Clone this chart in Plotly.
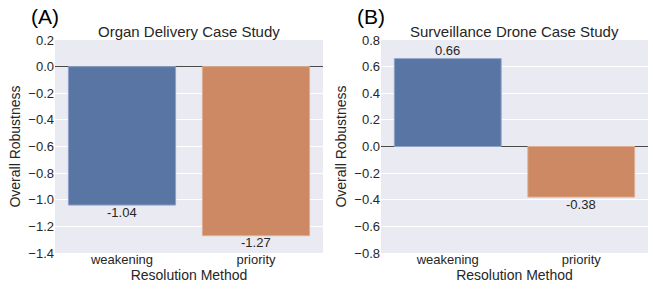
import plotly.graph_objects as go
from plotly.subplots import make_subplots

methods = ["weakening", "priority"]
organ_values = [-1.04, -1.27]
drone_values = [0.66, -0.38]
organ_labels = ["-1.04", "-1.27"]
drone_labels = ["0.66", "-0.38"]
colors = ["#5975A4", "#CC8963"]
edge_colors = ["#8EA2C6", "#E0AE91"]

FONT = "Liberation Sans, Arial, sans-serif"
TXT = "#262626"
W, H = 653, 289
L, R, T, B = 55, 5, 40, 36
PW, PH = W - L - R, H - T - B


def px(x):
    return (x - L) / PW


def py(y):
    return (H - B - y) / PH


fig = make_subplots(rows=1, cols=2)

fig.add_trace(go.Bar(x=methods, y=organ_values,
                     marker=dict(color=colors, line=dict(color=edge_colors, width=1)),
                     showlegend=False), row=1, col=1)
fig.add_trace(go.Bar(x=methods, y=drone_values,
                     marker=dict(color=colors, line=dict(color=edge_colors, width=1)),
                     showlegend=False), row=1, col=2)

for xr, yr, vals, labs in [("x", "y", organ_values, organ_labels),
                           ("x2", "y2", drone_values, drone_labels)]:
    for m, v, t in zip(methods, vals, labs):
        fig.add_annotation(x=m, y=v, xref=xr, yref=yr, text=t, showarrow=False,
                           xanchor="center", yanchor="middle",
                           yshift=(8 if v > 0 else -7),
                           font=dict(size=13, color=TXT, family=FONT))

xa = [px(55), px(323)]
xb = [px(381), px(648)]

axis_common = dict(gridcolor="white", gridwidth=1, showline=False, automargin=False,
                   ticks="", tickfont=dict(size=13, color=TXT, family=FONT))

fig.update_layout(
    width=W, height=H, margin=dict(l=L, r=R, t=T, b=B, pad=0),
    paper_bgcolor="white", plot_bgcolor="#EAEAF2",
    bargap=0.2, font=dict(family=FONT, color=TXT),
    xaxis=dict(domain=xa, **axis_common, showgrid=False, ticklabelstandoff=-3,
               title=dict(text="Resolution Method", font=dict(size=14, color=TXT), standoff=0)),
    xaxis2=dict(domain=xb, **axis_common, showgrid=False, ticklabelstandoff=-3,
                title=dict(text="Resolution Method", font=dict(size=14, color=TXT), standoff=0)),
    yaxis=dict(domain=[0, 1], range=[-1.4, 0.2], dtick=0.2, tickformat=".1f",
               showgrid=True, zeroline=True, zerolinecolor="#4A4A4A", zerolinewidth=1, **axis_common,
               title=dict(text="Overall Robustness", font=dict(size=14, color=TXT), standoff=4)),
    yaxis2=dict(domain=[0, 1], range=[-0.8, 0.8], dtick=0.2, tickformat=".1f",
                showgrid=True, zeroline=True, zerolinecolor="#4A4A4A", zerolinewidth=1, **axis_common,
                title=dict(text="Overall Robustness", font=dict(size=14, color=TXT), standoff=4)),
)

fig.add_annotation(text="Organ Delivery Case Study", xref="paper", yref="paper",
                   x=(xa[0] + xa[1]) / 2, y=py(32), showarrow=False,
                   font=dict(size=15, color=TXT, family=FONT), xanchor="center", yanchor="middle")
fig.add_annotation(text="Surveillance Drone Case Study", xref="paper", yref="paper",
                   x=(xb[0] + xb[1]) / 2, y=py(32), showarrow=False,
                   font=dict(size=15, color=TXT, family=FONT), xanchor="center", yanchor="middle")
fig.add_annotation(text="(A)", xref="paper", yref="paper", x=px(44.5), y=py(16.5),
                   showarrow=False, font=dict(size=21, color="black", family=FONT),
                   xanchor="center", yanchor="middle")
fig.add_annotation(text="(B)", xref="paper", yref="paper", x=px(370.5), y=py(16.5),
                   showarrow=False, font=dict(size=21, color="black", family=FONT),
                   xanchor="center", yanchor="middle")

fig.write_html("out.html", config={"displayModeBar": False},
               post_script="document.body.style.margin='0px';document.body.style.overflow='hidden';")
